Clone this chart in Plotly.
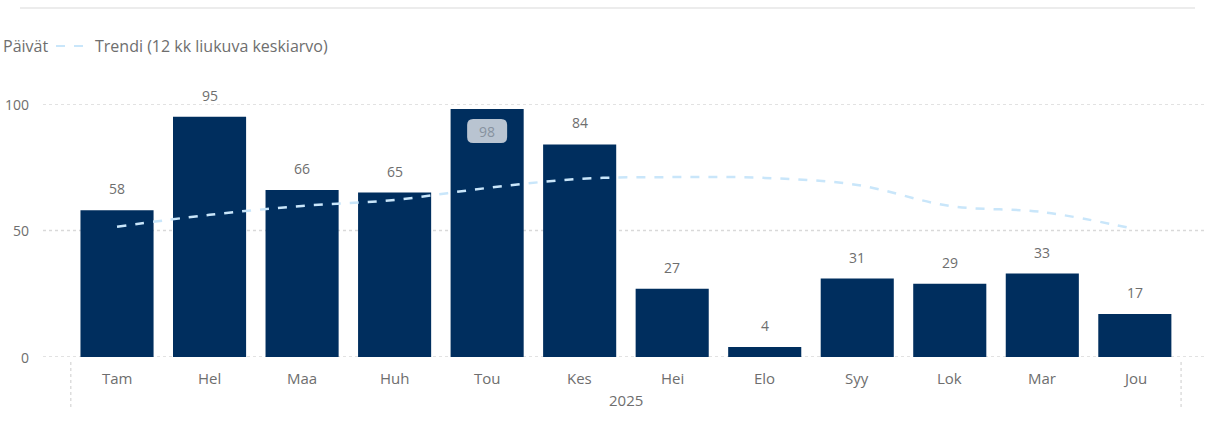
import plotly.graph_objects as go

months = ["Tam", "Hel", "Maa", "Huh", "Tou", "Kes", "Hei", "Elo", "Syy", "Lok", "Mar", "Jou"]
year_label = "2025"
values = [58, 95, 66, 65, 98, 84, 27, 4, 31, 29, 33, 17]
trend = [51.5, 56.2, 59.7, 62.1, 66.8, 70.4, 71.1, 70.8, 68.0, 59.7, 57.3, 50.6]
y_ticks = [0, 50, 100]
legend_first = "Päivät"
legend_trend = "Trendi (12 kk liukuva keskiarvo)"

BAR = "#002e5e"
TREND = "#c9e6fa"
GREY = "#6e6e6e"
FONT = "Open Sans, Noto Sans, sans-serif"

W, H = 1207, 428
ml, mr, mt, mb = 43, 0, 104, 71
pw, ph = W - ml - mr, H - mt - mb


def px(xp):
    return (xp - ml) / pw


def py(yp):
    return (H - mb - yp) / ph


x = list(range(len(months)))
fig = go.Figure()
fig.add_trace(go.Bar(x=x, y=values, marker=dict(color=BAR, line=dict(width=0)),
                     showlegend=False, hoverinfo="skip", cliponaxis=False))
fig.add_trace(go.Scatter(x=x, y=trend, mode="lines",
                         line=dict(color=TREND, width=2.5, dash="dash", shape="spline", smoothing=1.0),
                         showlegend=False, hoverinfo="skip", cliponaxis=False))

imax = values.index(max(values))
anns = []
shapes = []
for i, v in enumerate(values):
    if i == imax:
        anns.append(dict(x=i, y=v, xref="x", yref="y", text=str(v), showarrow=False,
                         yanchor="middle", yshift=-22,
                         font=dict(size=14, color="#87929f", family=FONT)))
        r = 6
        x0, x1, y0, y1 = -20, 20, -34, -10
        path = (f"M {x0+r},{y0} L {x1-r},{y0} Q {x1},{y0} {x1},{y0+r} L {x1},{y1-r} "
                f"Q {x1},{y1} {x1-r},{y1} L {x0+r},{y1} Q {x0},{y1} {x0},{y1-r} "
                f"L {x0},{y0+r} Q {x0},{y0} {x0+r},{y0} Z")
        shapes.append(dict(type="path", xref="x", yref="y", xsizemode="pixel", ysizemode="pixel",
                           xanchor=i, yanchor=v, path=path, fillcolor="#b9c4d1",
                           line=dict(width=0), layer="above"))
    else:
        anns.append(dict(x=i, y=v, xref="x", yref="y", text=str(v), showarrow=False,
                         yanchor="bottom", yshift=10,
                         font=dict(size=14, color=GREY, family=FONT)))
for i, m in enumerate(months):
    anns.append(dict(x=i, y=0, xref="x", yref="y", text=m, showarrow=False,
                     yanchor="top", yshift=-9, font=dict(size=15, color=GREY, family=FONT)))
anns.append(dict(x=(len(months) - 1) / 2, y=0, xref="x", yref="y", text=year_label, showarrow=False,
                 yanchor="top", yshift=-31, font=dict(size=15, color=GREY, family=FONT)))
for t in y_ticks:
    anns.append(dict(x=0, y=t, xref="paper", yref="y", text=str(t), showarrow=False,
                     xanchor="right", yanchor="middle", xshift=-12,
                     font=dict(size=14, color=GREY, family=FONT)))
anns.append(dict(x=px(1), y=py(46), xref="paper", yref="paper", text=legend_first, showarrow=False,
                 xanchor="left", yanchor="middle", font=dict(size=16, color=GREY, family=FONT)))
anns.append(dict(x=px(93), y=py(46), xref="paper", yref="paper", text=legend_trend, showarrow=False,
                 xanchor="left", yanchor="middle", font=dict(size=16, color=GREY, family=FONT)))

shapes += [
    dict(type="line", xref="paper", yref="paper", x0=px(20), x1=px(1195), y0=py(8), y1=py(8),
         line=dict(color="#ececec", width=2)),
    dict(type="line", xref="paper", yref="paper", x0=px(56), x1=px(89), y0=py(46), y1=py(46),
         line=dict(color=TREND, width=2, dash="dash")),
    dict(type="line", xref="x", yref="paper", x0=-0.5, x1=-0.5, y0=py(362), y1=py(410),
         line=dict(color="#dddddd", width=1.5, dash="dot")),
    dict(type="line", xref="x", yref="paper", x0=len(months) - 0.5, x1=len(months) - 0.5,
         y0=py(362), y1=py(410), line=dict(color="#dddddd", width=1.5, dash="dot")),
]
for t in y_ticks:
    shapes.append(dict(type="line", xref="paper", yref="y", x0=0, x1=1, y0=t, y1=t, layer="below",
                       line=dict(color="#d9d9d9", width=1.5, dash="dot")))

fig.update_layout(
    width=W, height=H,
    margin=dict(l=ml, r=mr, t=mt, b=mb, autoexpand=False),
    paper_bgcolor="white", plot_bgcolor="white",
    bargap=0.21,
    xaxis=dict(range=[-0.8, 11.78], showticklabels=False, showgrid=False, zeroline=False,
               showline=False, fixedrange=True),
    yaxis=dict(range=[0, 100], showticklabels=False, showgrid=False, zeroline=False,
               showline=False, fixedrange=True),
    annotations=anns, shapes=shapes,
    showlegend=False,
)
fig.write_html("out.html", config={"displayModeBar": False},
               post_script="document.body.style.margin='0';document.body.style.overflow='hidden';")
